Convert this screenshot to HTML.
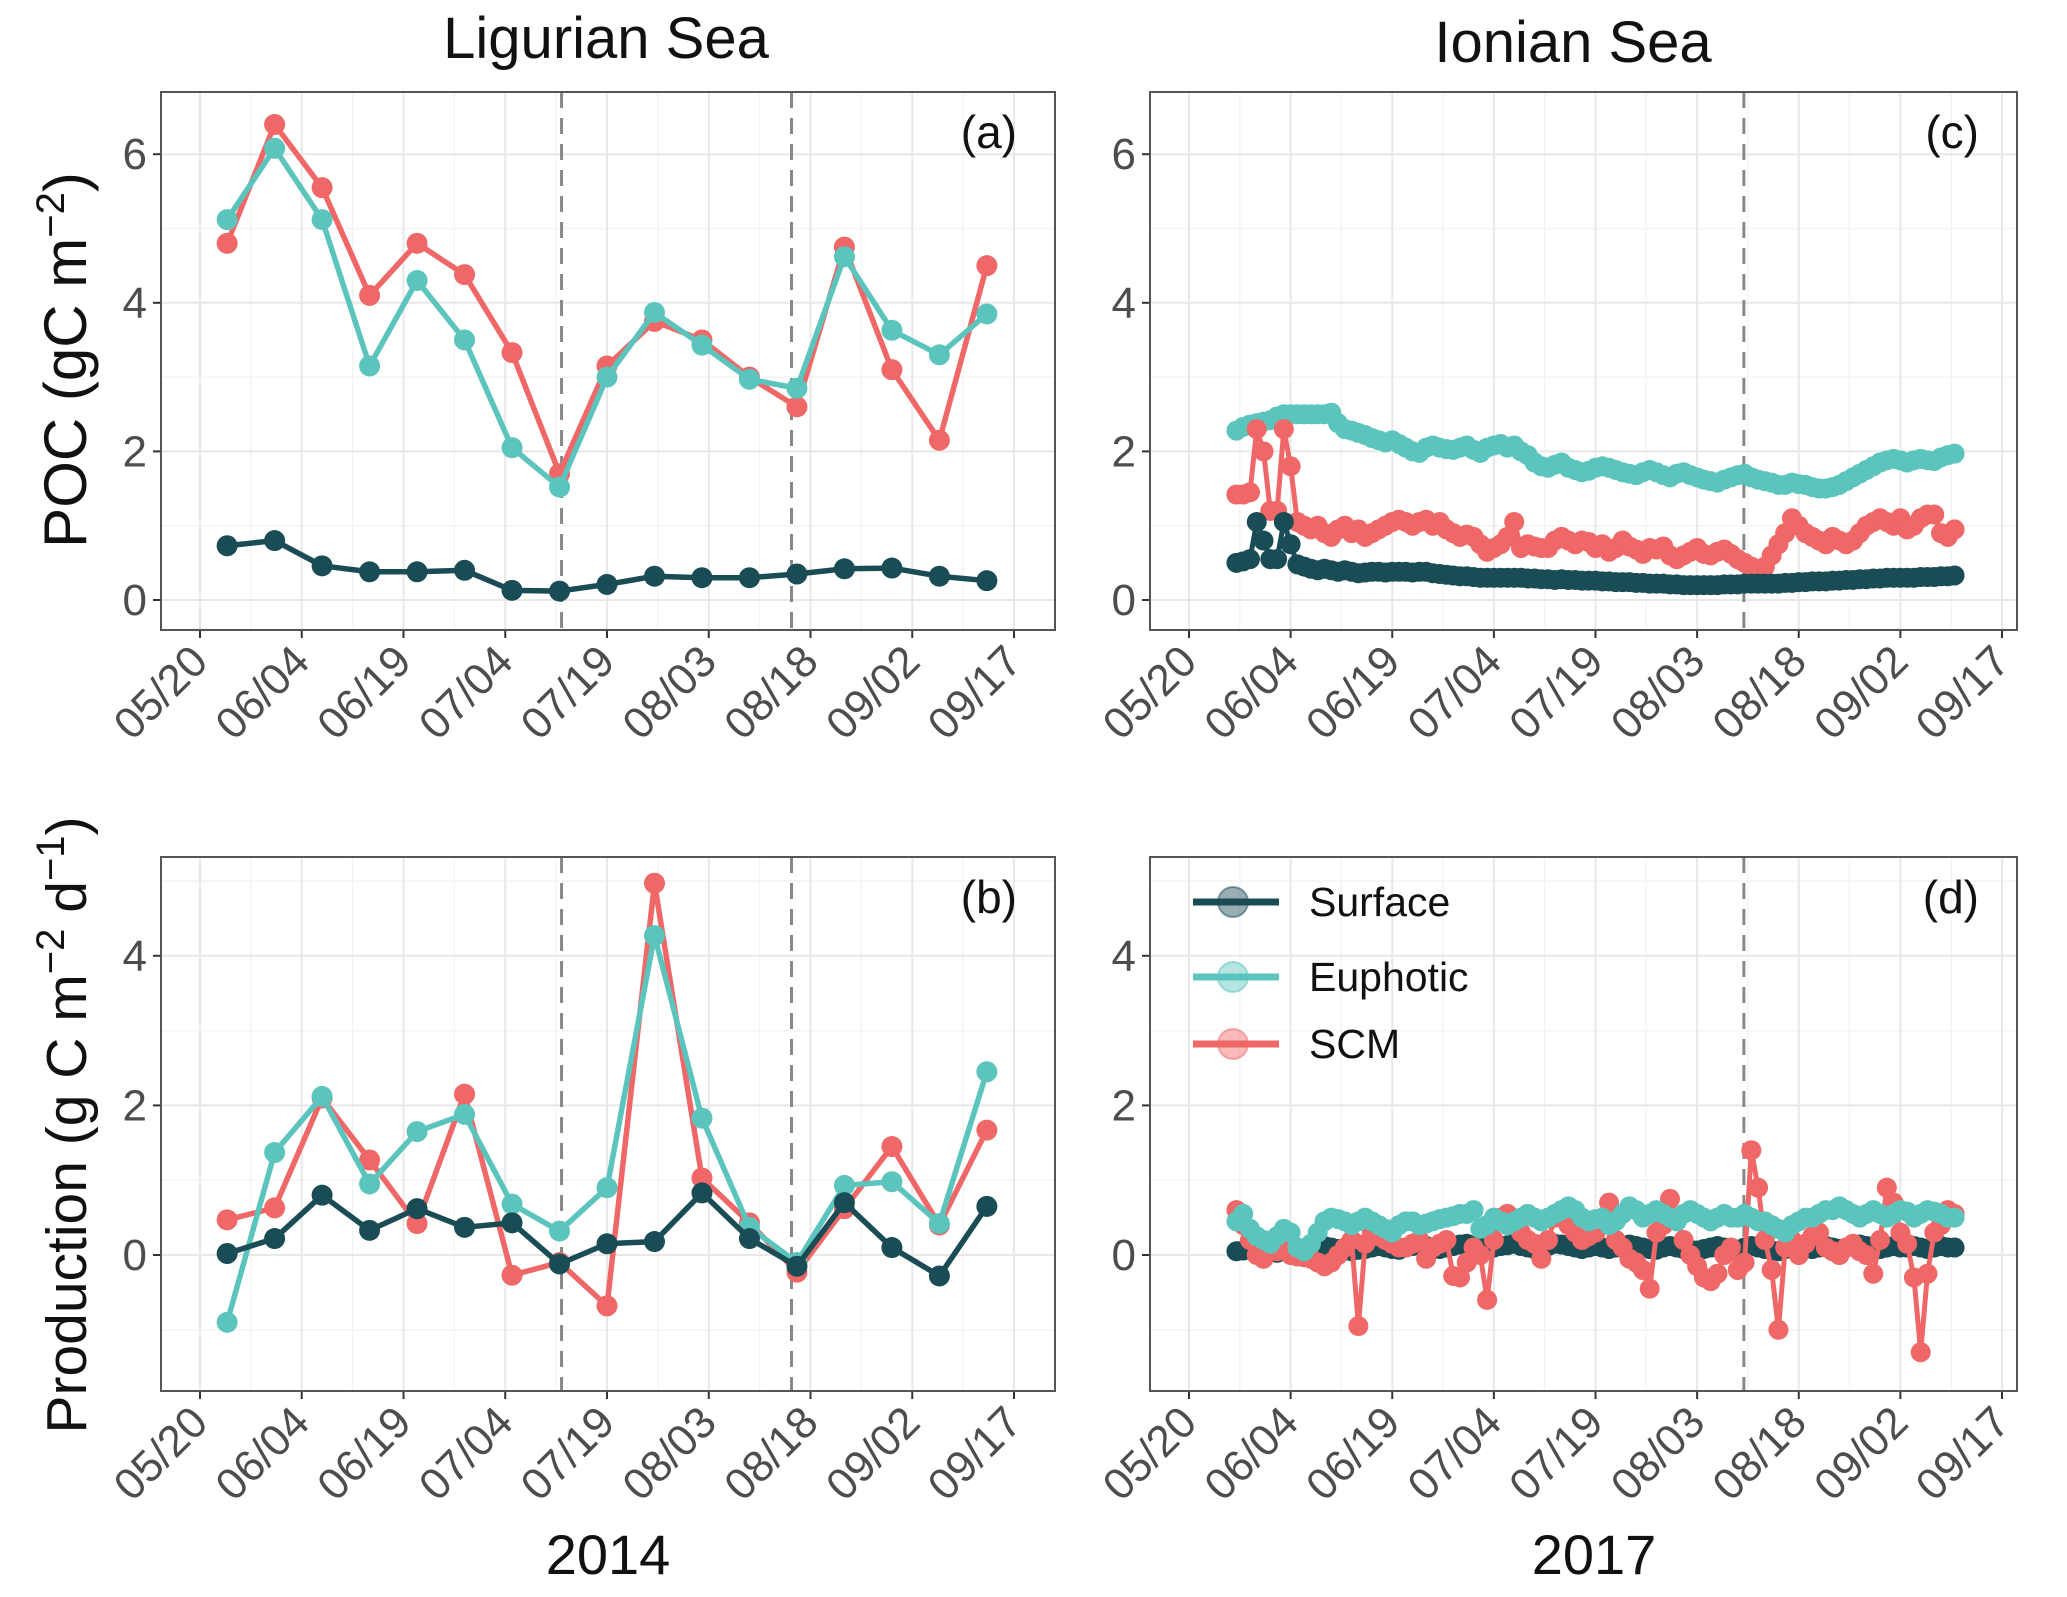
<!DOCTYPE html>
<html><head><meta charset="utf-8"><style>
html,body{margin:0;padding:0;background:#fff;}
svg{display:block;font-family:"Liberation Sans",Arial,sans-serif;}
</style></head><body>
<svg id="fig" width="2067" height="1597" viewBox="0 0 2067 1597" xmlns="http://www.w3.org/2000/svg"></svg>
<script>
// ---------- DATA ----------
const ligDays = [4,11,18,25,32,39,46,53,60,67,74,81,88,95,102,109,116];
const pocLigSurface = [0.73,0.8,0.46,0.38,0.38,0.4,0.13,0.12,0.21,0.32,0.3,0.3,0.35,0.42,0.43,0.32,0.26];
const pocLigEuphotic = [5.12,6.08,5.12,3.15,4.3,3.5,2.05,1.52,3.0,3.87,3.43,2.97,2.85,4.62,3.63,3.3,3.85];
const pocLigSCM = [4.8,6.4,5.55,4.1,4.8,4.38,3.33,1.7,3.15,3.75,3.5,3.0,2.6,4.75,3.1,2.15,4.5];
const prodLigSurface = [0.02,0.22,0.8,0.33,0.62,0.37,0.43,-0.12,0.15,0.18,0.83,0.22,-0.15,0.7,0.1,-0.28,0.65];
const prodLigEuphotic = [-0.9,1.37,2.12,0.95,1.65,1.88,0.68,0.32,0.9,4.27,1.83,0.37,-0.1,0.93,0.98,0.42,2.45];
const prodLigSCM = [0.47,0.63,2.1,1.27,0.42,2.15,-0.27,-0.1,-0.68,4.97,1.03,0.43,-0.23,0.62,1.45,0.4,1.67];

const ionStartDay = 7;
const pocIonEuphotic = [2.28,2.33,2.36,2.38,2.4,2.42,2.47,2.5,2.5,2.5,
2.5,2.5,2.5,2.5,2.52,2.38,2.3,2.28,2.25,2.22,
2.18,2.15,2.12,2.15,2.1,2.05,2.0,1.98,2.05,2.08,
2.05,2.03,2.02,2.05,2.08,2.02,1.98,2.05,2.08,2.1,
2.05,2.08,2.0,1.95,1.85,1.8,1.78,1.82,1.85,1.78,
1.75,1.72,1.74,1.78,1.8,1.78,1.75,1.72,1.7,1.68,
1.72,1.75,1.72,1.68,1.65,1.7,1.72,1.68,1.65,1.62,
1.6,1.58,1.62,1.65,1.68,1.7,1.65,1.62,1.6,1.58,
1.55,1.55,1.58,1.56,1.55,1.52,1.5,1.5,1.52,1.55,
1.6,1.65,1.7,1.75,1.8,1.85,1.88,1.9,1.88,1.85,
1.88,1.9,1.88,1.87,1.92,1.95,1.97];
const pocIonSCM = [1.42,1.42,1.45,2.3,2.0,1.2,1.2,2.3,1.8,1.05,
1.0,0.95,1.0,0.9,0.85,0.95,1.0,0.9,0.95,0.85,
0.9,0.95,1.0,1.05,1.08,1.05,1.0,1.05,1.08,1.0,
1.05,0.95,0.9,0.85,0.88,0.85,0.75,0.65,0.7,0.75,
0.85,1.05,0.7,0.75,0.72,0.7,0.7,0.8,0.85,0.8,
0.75,0.8,0.78,0.7,0.75,0.65,0.7,0.8,0.72,0.68,
0.62,0.7,0.68,0.72,0.6,0.55,0.6,0.65,0.7,0.62,
0.6,0.65,0.68,0.62,0.55,0.5,0.45,0.38,0.45,0.6,
0.75,0.9,1.1,1.0,0.9,0.85,0.8,0.75,0.85,0.8,
0.75,0.8,0.9,1.0,1.05,1.1,1.05,1.0,1.1,0.95,
1.0,1.1,1.15,1.15,0.9,0.85,0.95];
const pocIonSurface = [0.5,0.52,0.55,1.05,0.8,0.55,0.55,1.05,0.75,0.48,
0.45,0.42,0.4,0.42,0.4,0.38,0.4,0.38,0.36,0.37,
0.38,0.38,0.37,0.38,0.38,0.38,0.37,0.38,0.38,0.36,
0.35,0.34,0.33,0.32,0.32,0.31,0.3,0.3,0.3,0.3,
0.3,0.3,0.3,0.29,0.29,0.28,0.28,0.27,0.28,0.27,
0.27,0.26,0.26,0.26,0.25,0.25,0.24,0.24,0.24,0.23,
0.23,0.22,0.22,0.22,0.21,0.21,0.2,0.2,0.2,0.2,
0.2,0.2,0.21,0.21,0.21,0.22,0.22,0.22,0.22,0.22,
0.22,0.23,0.23,0.24,0.24,0.25,0.25,0.25,0.26,0.26,
0.27,0.27,0.28,0.28,0.29,0.29,0.3,0.3,0.3,0.3,
0.3,0.31,0.31,0.31,0.32,0.32,0.33];
const prodIonEuphotic = [0.45,0.55,0.35,0.25,0.2,0.15,0.25,0.35,0.3,0.1,
0.05,0.15,0.3,0.45,0.5,0.48,0.45,0.4,0.45,0.5,
0.45,0.4,0.35,0.3,0.4,0.45,0.45,0.4,0.42,0.45,
0.48,0.5,0.52,0.55,0.55,0.6,0.35,0.4,0.5,0.45,
0.4,0.45,0.5,0.55,0.5,0.45,0.5,0.55,0.6,0.65,
0.6,0.5,0.45,0.48,0.5,0.4,0.45,0.55,0.65,0.6,
0.5,0.55,0.6,0.55,0.5,0.45,0.55,0.6,0.55,0.5,
0.45,0.5,0.55,0.5,0.5,0.55,0.5,0.45,0.45,0.4,
0.35,0.3,0.4,0.45,0.5,0.5,0.55,0.6,0.6,0.65,
0.6,0.55,0.5,0.55,0.6,0.55,0.5,0.55,0.6,0.58,
0.5,0.55,0.6,0.58,0.55,0.5,0.5];
const prodIonSCM = [0.6,0.4,0.2,0.0,-0.05,0.1,0.05,0.1,0.0,-0.02,
-0.03,-0.05,-0.1,-0.15,-0.1,0.0,0.1,0.2,-0.95,0.15,
0.3,0.25,0.2,0.15,0.1,0.1,0.15,0.2,-0.05,0.1,
0.15,0.2,-0.28,-0.3,-0.1,0.1,0.0,-0.6,0.2,0.5,
0.55,0.45,0.3,0.2,0.15,-0.05,0.2,0.5,0.55,0.4,
0.3,0.2,0.25,0.3,0.45,0.7,0.2,0.1,-0.05,-0.1,
-0.2,-0.45,0.3,0.4,0.75,0.5,0.2,0.0,-0.15,-0.3,
-0.35,-0.25,0.0,0.1,-0.2,-0.1,1.4,0.9,0.2,-0.2,
-1.0,0.1,0.2,0.0,0.15,0.25,0.3,0.1,0.05,0.0,
0.1,0.15,0.05,0.0,-0.25,0.2,0.9,0.7,0.3,0.15,
-0.3,-1.3,-0.25,0.3,0.4,0.6,0.55];
const prodIonSurface = [0.05,0.06,0.08,0.05,0.04,0.05,0.03,0.05,0.07,0.06,
0.05,0.08,0.1,0.12,0.1,0.08,0.06,0.05,0.07,0.08,
0.1,0.12,0.1,0.08,0.07,0.1,0.12,0.14,0.12,0.1,
0.08,0.1,0.12,0.14,0.15,0.12,0.1,0.08,0.1,0.12,
0.13,0.15,0.12,0.1,0.08,0.1,0.12,0.15,0.14,0.12,
0.1,0.08,0.1,0.12,0.1,0.08,0.1,0.12,0.14,0.12,
0.1,0.08,0.07,0.1,0.12,0.1,0.08,0.07,0.06,0.08,
0.1,0.12,0.1,0.08,0.07,0.1,0.12,0.1,0.08,0.06,
0.05,0.08,0.1,0.12,0.1,0.08,0.1,0.12,0.1,0.08,
0.1,0.12,0.14,0.12,0.1,0.08,0.1,0.12,0.1,0.1,
0.12,0.1,0.08,0.1,0.12,0.1,0.1];

const xTickLabels = ["05/20","06/04","06/19","07/04","07/19","08/03","08/18","09/02","09/17"];
const pocTicks = [0,2,4,6];
const prodTicks = [0,2,4];
const ligDashDays = [53.3,87.2];
const ionDashDays = [81.9];

// ---------- DRAW ----------
const NS = "http://www.w3.org/2000/svg";
const svg = document.getElementById("fig");
const C = {surface:"#1a4c55", euphotic:"#5bc4bd", scm:"#ef6766"};
function mk(tag, attrs, parent){
  const e = document.createElementNS(NS, tag);
  for (const k in attrs) e.setAttribute(k, attrs[k]);
  (parent||svg).appendChild(e);
  return e;
}
function panel(cfg){
  const g = mk("g", {});
  
  
  const xs = d => cfg.x0 + (cfg.x1 - cfg.x0) * d / 120;
  const ys = v => cfg.yZero - cfg.yUnit * v;
  for (let i = 0; i < 8; i++) {
    const x = xs(i*15 + 7.5);
    mk("line",{x1:x,x2:x,y1:cfg.top,y2:cfg.bottom,stroke:"#f4f4f4","stroke-width":1.5},g);
  }
  for (let v = cfg.ymin; v <= cfg.ymax; v += 1) {
    if (v % 2 === 0) continue;
    const y = ys(v);
    if (y > cfg.top && y < cfg.bottom) mk("line",{x1:cfg.left,x2:cfg.right,y1:y,y2:y,stroke:"#f4f4f4","stroke-width":1.5},g);
  }
  xTickLabels.forEach((lab,i) => {
    const x = xs(i*15);
    mk("line",{x1:x,x2:x,y1:cfg.top,y2:cfg.bottom,stroke:"#e8e8e8","stroke-width":2},g);
    mk("line",{x1:x,x2:x,y1:cfg.bottom,y2:cfg.bottom+8,stroke:"#333","stroke-width":2},g);
    const t = mk("text",{x:x+10,y:cfg.bottom+34,"text-anchor":"end","font-size":44,fill:"#4d4d4d",transform:`rotate(-45 ${x+10} ${cfg.bottom+34})`},g);
    
    
    t.textContent = lab;
  });
  cfg.ticks.forEach(v => {
    const y = ys(v);
    mk("line",{x1:cfg.left,x2:cfg.right,y1:y,y2:y,stroke:"#e8e8e8","stroke-width":2},g);
    mk("line",{x1:cfg.left-8,x2:cfg.left,y1:y,y2:y,stroke:"#333","stroke-width":2},g);
    const t = mk("text",{x:cfg.left-14,y:y+15,"text-anchor":"end","font-size":44,fill:"#4d4d4d"},g);
    
    
    t.textContent = v;
  });
  cfg.dash.forEach(d => {
    const l = mk("line",{x1:xs(d),x2:xs(d),y1:cfg.top,y2:cfg.bottom,stroke:"#888","stroke-width":3,"stroke-dasharray":"16 10"},g);
    
    
  });
  const r = cfg.r;
  cfg.series.forEach(s => {
    const sg = mk("g",{},g);
    
    
    const pts = s.vals.map((v,i) => [xs(cfg.days(i)), ys(v)]);
    mk("polyline",{points:pts.map(p=>p.join(",")).join(" "),fill:"none",stroke:s.color,"stroke-width":cfg.lw,"stroke-linejoin":"round"},sg);
    pts.forEach(p => {
      const c = mk("circle",{cx:p[0],cy:p[1],r:r,fill:s.color},sg);
      
      
    });
  });
  mk("rect",{x:cfg.left,y:cfg.top,width:cfg.right-cfg.left,height:cfg.bottom-cfg.top,fill:"none",stroke:"#555","stroke-width":2},g);
  const pl = mk("text",{x:cfg.right-38,y:cfg.top+56,"text-anchor":"end","font-size":46,fill:"#111"},g);
  
  
  pl.textContent = cfg.label;
}
const ligDayF = i => ligDays[i];
const ionDayF = i => ionStartDay + i;
panel({name:"panel-a-poc-ligurian",left:161,right:1055,top:92,bottom:630,x0:200,x1:1014,yZero:600,yUnit:74.3,ymin:-1,ymax:7,ticks:pocTicks,dash:ligDashDays,label:"(a)",days:ligDayF,r:10.5,lw:5.5,
  series:[{name:"scm-line",color:C.scm,vals:pocLigSCM},{name:"euphotic-line",color:C.euphotic,vals:pocLigEuphotic},{name:"surface-line",color:C.surface,vals:pocLigSurface}]});
panel({name:"panel-c-poc-ionian",left:1150,right:2017,top:92,bottom:630,x0:1189,x1:2002,yZero:600,yUnit:74.3,ymin:-1,ymax:7,ticks:pocTicks,dash:ionDashDays,label:"(c)",days:ionDayF,r:10,lw:5,
  series:[{name:"euphotic-line",color:C.euphotic,vals:pocIonEuphotic},{name:"scm-line",color:C.scm,vals:pocIonSCM},{name:"surface-line",color:C.surface,vals:pocIonSurface}]});
panel({name:"panel-b-production-ligurian",left:161,right:1055,top:857,bottom:1391,x0:200,x1:1014,yZero:1255,yUnit:74.8,ymin:-2,ymax:6,ticks:prodTicks,dash:ligDashDays,label:"(b)",days:ligDayF,r:10.5,lw:5.5,
  series:[{name:"scm-line",color:C.scm,vals:prodLigSCM},{name:"euphotic-line",color:C.euphotic,vals:prodLigEuphotic},{name:"surface-line",color:C.surface,vals:prodLigSurface}]});
panel({name:"panel-d-production-ionian",left:1150,right:2017,top:857,bottom:1391,x0:1189,x1:2002,yZero:1255,yUnit:74.8,ymin:-2,ymax:6,ticks:prodTicks,dash:ionDashDays,label:"(d)",days:ionDayF,r:10,lw:5,
  series:[{name:"surface-line",color:C.surface,vals:prodIonSurface},{name:"scm-line",color:C.scm,vals:prodIonSCM},{name:"euphotic-line",color:C.euphotic,vals:prodIonEuphotic}]});

const lg = mk("g",{});


[["Surface",C.surface,902],["Euphotic",C.euphotic,977],["SCM",C.scm,1044]].forEach(e => {
  const eg = mk("g",{},lg);
  
  
  mk("line",{x1:1193,x2:1279,y1:e[2],y2:e[2],stroke:e[1],"stroke-width":7},eg);
  mk("circle",{cx:1233,cy:e[2],r:15,fill:e[1],"fill-opacity":0.45,stroke:e[1],"stroke-opacity":0.5,"stroke-width":2},eg);
  const t = mk("text",{x:1309,y:e[2]+14,"font-size":41,fill:"#111"},eg);
  t.textContent = e[0];
});

function txt(name, attrs, s){
  const t = mk("text", attrs);
  
  
  t.innerHTML = s;
}
txt("title-ligurian-sea",{x:606,y:58,"text-anchor":"middle","font-size":58,fill:"#111"},"Ligurian Sea");
txt("title-ionian-sea",{x:1573,y:62,"text-anchor":"middle","font-size":58,fill:"#111"},"Ionian Sea");
txt("x-axis-title-2014",{x:608,y:1574,"text-anchor":"middle","font-size":56,fill:"#111"},"2014");
txt("x-axis-title-2017",{x:1594,y:1574,"text-anchor":"middle","font-size":56,fill:"#111"},"2017");
txt("y-axis-title-poc",{x:0,y:0,"text-anchor":"middle","font-size":60,fill:"#111",transform:"translate(86 360) rotate(-90)"},
  'POC (gC m<tspan dy="-22" font-size="40">−2</tspan><tspan dy="22">)</tspan>');
txt("y-axis-title-production",{x:0,y:0,"text-anchor":"middle","font-size":57,fill:"#111",transform:"translate(86 1125) rotate(-90)"},
  'Production (g C m<tspan dy="-22" font-size="40">−2</tspan><tspan dy="22"> d</tspan><tspan dy="-22" font-size="40">−1</tspan><tspan dy="22">)</tspan>');
</script>
</body></html>
